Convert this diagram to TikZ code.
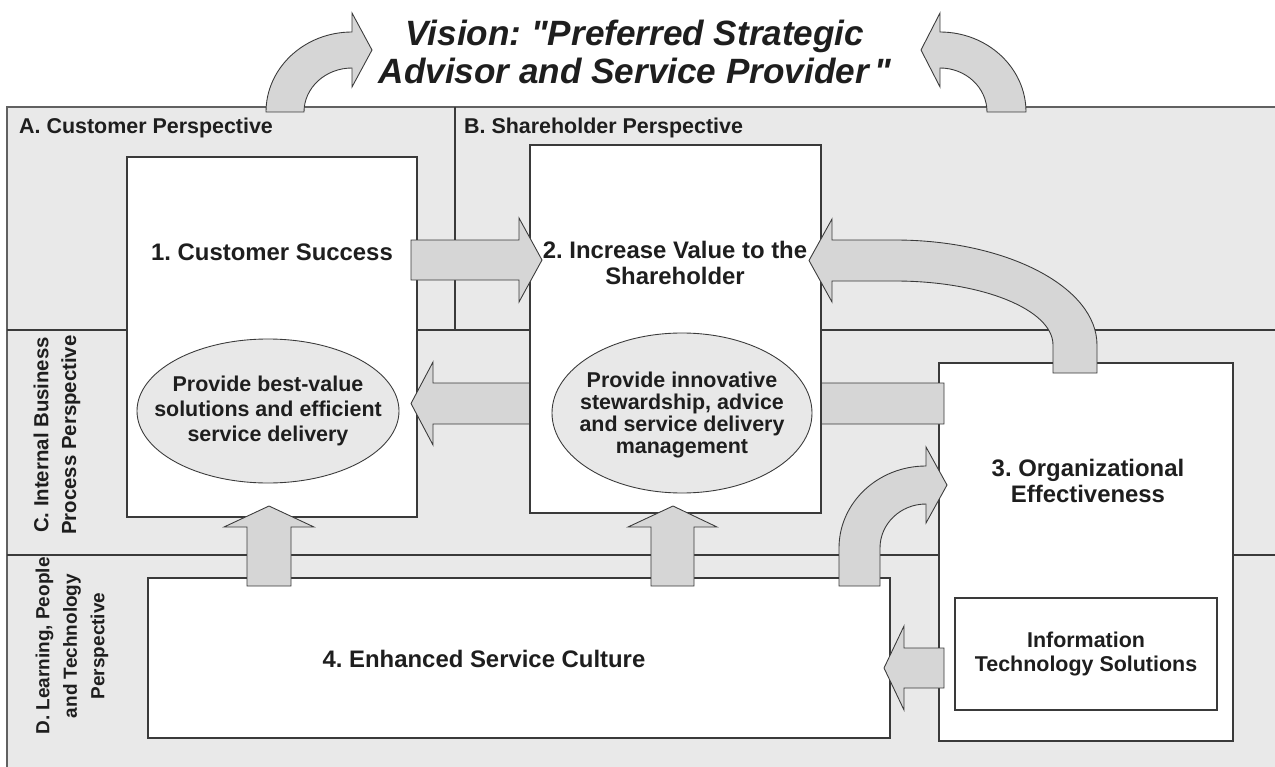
\documentclass[tikz,border=0pt]{standalone}
\usepackage{fontspec}
\setmainfont{Liberation Sans}
\frenchspacing
\definecolor{panelgray}{HTML}{E9E9E9}
\definecolor{arrowgray}{HTML}{D6D6D6}
\definecolor{ovalgray}{HTML}{E8E8E8}
\definecolor{edgegray}{HTML}{3A3A3A}
\definecolor{inkgray}{HTML}{1E1E1E}

\begin{document}
\begin{tikzpicture}[x=0.02cm, y=-0.02cm,
  box/.style={draw=edgegray, fill=white, line width=0.8pt},
  barrow/.style={draw=edgegray, fill=arrowgray, line width=0.5pt},
  oval/.style={draw=edgegray, fill=ovalgray, line width=0.5pt},
  heading/.style={font=\fontsize{13.6}{15.3}\selectfont\bfseries, text=inkgray, align=center},
  small/.style={font=\fontsize{12.2}{14}\selectfont\bfseries, text=inkgray, align=center},
  persp/.style={font=\fontsize{11.6}{15.9}\selectfont\bfseries, text=inkgray, align=center}]
\useasboundingbox (0,0) rectangle (1275,767);

%panels
\fill[panelgray] (7,107) rectangle (1275,767);
\draw[edgegray!80, line width=0.9pt] (7,767) -- (7,107) -- (1275,107);
\draw[edgegray, line width=0.6pt] (7,330) -- (1275,330);
\draw[edgegray, line width=0.6pt] (7,555) -- (1275,555);
\draw[edgegray, line width=0.6pt] (455,107) -- (455,330);

%vision arrows
\draw[barrow] (266,112) arc[start angle=180, end angle=270, x radius=86, y radius=80]
  -- (352,13) -- (372,50) -- (352,87) -- (352,68)
  arc[start angle=270, end angle=180, x radius=48, y radius=44] -- (304,112) -- cycle;
\draw[barrow] (1026,112) arc[start angle=0, end angle=-90, x radius=86, y radius=80]
  -- (940,13) -- (921,50) -- (940,87) -- (940,68)
  arc[start angle=-90, end angle=0, x radius=47, y radius=44] -- (987,112) -- cycle;

%boxes
\draw[box] (127,157) rectangle (417,517);
\draw[box] (939,363) rectangle (1233,741);
\draw[box] (148,578) rectangle (890,738);

\draw[barrow] (944,383) -- (433,383) -- (433,362) -- (411,403.5) -- (433,445)
  -- (433,424) -- (944,424) -- cycle;

\draw[box] (530,145) rectangle (821,513);

\draw[oval] (268,411) ellipse[x radius=131, y radius=72];
\draw[oval] (682,413) ellipse[x radius=130, y radius=80];
\node[small] (bestvalue) at (268,411)
  {Provide best-value\\solutions and efficient\\service delivery};
\node[small, font=\fontsize{12.2}{12.6}\selectfont\bfseries] (innovative) at (682,415)
  {Provide innovative\\stewardship, advice\\and service delivery\\management};

%arrows
\draw[barrow] (411,240) -- (519,240) -- (519,218) -- (542,260) -- (519,302)
  -- (519,280) -- (411,280) -- cycle;
\draw[barrow] (832,240) -- (895,240)
  arc[start angle=270, end angle=360, x radius=202, y radius=105]
  -- (1097,373) -- (1053,373) -- (1053,345)
  arc[start angle=0, end angle=-90, x radius=158, y radius=64]
  -- (832,281) -- (832,302) -- (809,260.5) -- (832,219) -- cycle;
\draw[barrow] (839,586) -- (839,548)
  arc[start angle=180, end angle=270, x radius=87, y radius=82]
  -- (926,447) -- (947,485) -- (926,523) -- (926,504)
  arc[start angle=270, end angle=180, x radius=46, y radius=44] -- (880,586) -- cycle;
\draw[barrow] (247,586) -- (247,527) -- (224,527) -- (269,506) -- (314,527)
  -- (291,527) -- (291,586) -- cycle;
\draw[barrow] (651,586) -- (651,527) -- (628,527) -- (673,506) -- (717,527)
  -- (694,527) -- (694,586) -- cycle;
\draw[barrow] (944,648) -- (904,648) -- (904,626) -- (884,668) -- (904,710)
  -- (904,688) -- (944,688) -- cycle;

\draw[box] (955,598) rectangle (1217,710);

%labels
\node[font=\fontsize{20}{21.5}\selectfont\bfseries\itshape, text=inkgray, align=center]
  (vision) at (635,52) {Vision: \textquotedbl Preferred Strategic\\Advisor and Service Provider\,\textquotedbl};
\node[persp, font=\fontsize{12.2}{15.9}\selectfont\bfseries, anchor=west] (perspA) at (13,128) {A. Customer Perspective};
\node[persp, font=\fontsize{12.2}{15.9}\selectfont\bfseries, anchor=west] (perspB) at (458,128) {B. Shareholder Perspective};
\node[persp, rotate=90] (perspC) at (57,435) {C. Internal Business\\Process Perspective};
\node[persp, font=\fontsize{10.8}{15.6}\selectfont\bfseries, rotate=90] (perspD) at (72,646) {D. Learning, People\\and Technology\\Perspective};

\node[heading] (success) at (272,252) {1. Customer Success};
\node[heading] (shareval) at (675,263) {2. Increase Value to the\\Shareholder};
\node[heading] (orgeff) at (1088,481) {3. Organizational\\Effectiveness};
\node[heading] (culture) at (484,659) {4. Enhanced Service Culture};
\node[small] (itsol) at (1086,654) {Information\\Technology Solutions};
\end{tikzpicture}
\end{document}
